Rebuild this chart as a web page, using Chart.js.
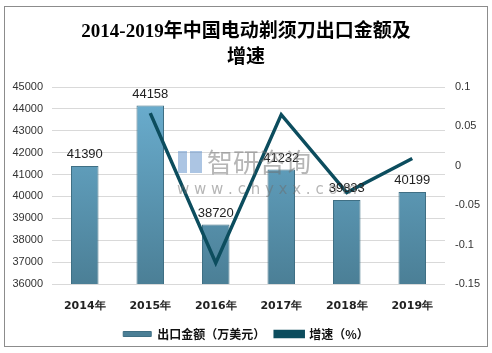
<!DOCTYPE html>
<html>
<head>
<meta charset="utf-8">
<script src="https://cdn.jsdelivr.net/npm/chart.js@4.4.0/dist/chart.umd.min.js"></script>
<style>
  body { margin: 0; background: #fff; }
  #wrap { position: absolute; left: 0; top: 0; width: 492px; height: 353px; }
</style>
</head>
<body>
<div id="wrap"><canvas id="c"></canvas></div>
<script>
const years = ['2014年', '2015年', '2016年', '2017年', '2018年', '2019年'];
const exportValue = [41390, 44158, 38720, 41232, 39833, 40199];
const growth = [null, 0.0669, -0.1232, 0.0649, -0.0339, 0.0092];
const leftTicks = [36000, 45000, 1000];
const rightTicks = [-0.15, 0.1, 0.05];

const titleLines = ['2014-2019年中国电动剃须刀出口金额及', '增速'];

// frame, title, value labels and the watermark
const decor = {
  id: 'decor',
  beforeDraw(chart) {
    const ctx = chart.ctx;
    ctx.save();
    ctx.strokeStyle = '#8c8c8c';
    ctx.lineWidth = 1;
    ctx.strokeRect(4.5, 6.5, 483, 340);
    ctx.fillStyle = '#000';
    ctx.font = 'bold 19px "Liberation Serif", "Noto Sans CJK SC"';
    ctx.textAlign = 'center';
    ctx.textBaseline = 'middle';
    ctx.fillText(titleLines[0], 246, 32);
    ctx.fillText(titleLines[1], 246, 58);
    ctx.restore();
  },
  afterDatasetsDraw(chart) {
    const ctx = chart.ctx;
    const meta = chart.getDatasetMeta(0);
    ctx.save();
    ctx.font = '13px "Liberation Sans"';
    ctx.fillStyle = '#222';
    ctx.textAlign = 'center';
    ctx.textBaseline = 'bottom';
    meta.data.forEach((bar, i) => {
      ctx.fillText(String(exportValue[i]), bar.x, bar.y - 5);
    });
    // watermark
    ctx.fillStyle = 'rgba(110,110,110,0.5)';
    ctx.font = '26px "Noto Sans CJK SC"';
    ctx.textAlign = 'left';
    ctx.textBaseline = 'middle';
    ctx.fillText('智研咨询', 207, 162);
    ctx.font = '15px "DejaVu Sans"';
    ctx.fillText('w w w . c h y x x . c o m', 177, 190);
    ctx.fillStyle = 'rgba(90,140,200,0.5)';
    ctx.fillRect(178, 151, 9, 22);
    ctx.fillRect(190, 151, 12, 22);
    ctx.restore();
  }
};

new Chart(document.getElementById('c'), {
  data: {
    labels: years,
    datasets: [{
      type: 'bar',
      label: '出口金额（万美元）',
      data: exportValue,
      yAxisID: 'y',
      order: 2,
      backgroundColor(context) {
        const area = context.chart.chartArea;
        if (!area) return '#5b9bbb';
        const g = context.chart.ctx.createLinearGradient(0, area.top, 0, area.bottom);
        g.addColorStop(0, '#6cb0d2');
        g.addColorStop(1, '#4b7f96');
        return g;
      },
      borderColor: '#3f6f84',
      borderWidth: 1,
      barPercentage: 0.42,
      categoryPercentage: 1
    }, {
      type: 'line',
      label: '增速（%）',
      data: growth,
      yAxisID: 'y1',
      order: 1,
      borderColor: '#0c4d5e',
      backgroundColor: '#0c4d5e',
      borderWidth: 3.5,
      pointRadius: 0,
      tension: 0
    }]
  },
  plugins: [decor],
  options: {
    responsive: true,
    maintainAspectRatio: false,
    animation: false,
    layout: { padding: { top: 87, left: 0, right: 0, bottom: 3 } },
    plugins: {
      title: { display: false },
      tooltip: { enabled: false },
      legend: {
        position: 'bottom',
        labels: {
          boxWidth: 28,
          boxHeight: 5,
          padding: 10,
          color: '#111',
          sort: (a, b) => a.datasetIndex - b.datasetIndex,
          font: { size: 12, weight: 'bold', family: '"Noto Sans CJK SC"' }
        }
      }
    },
    scales: {
      x: {
        grid: { display: false },
        border: { display: false },
        ticks: { color: '#222', font: { size: 11, weight: 'bold', family: '"DejaVu Sans"' }, padding: 8 },
        afterFit(s) { s.height = 34; }
      },
      y: {
        position: 'left',
        min: leftTicks[0],
        max: leftTicks[1],
        ticks: {
          stepSize: leftTicks[2],
          color: '#333',
          font: { size: 11, family: '"Liberation Sans"' },
          padding: 9,
          callback: v => String(v)
        },
        grid: { color: '#d9d9d9', drawTicks: false },
        border: { display: false },
        afterFit(s) { s.width = 52; }
      },
      y1: {
        position: 'right',
        min: rightTicks[0],
        max: rightTicks[1],
        ticks: {
          stepSize: rightTicks[2],
          color: '#333',
          font: { size: 11, family: '"Liberation Sans"' },
          padding: 10,
          callback: v => String(parseFloat(v.toFixed(2)))
        },
        grid: { display: false, drawTicks: false },
        border: { display: false },
        afterFit(s) { s.width = 47; }
      }
    }
  }
});
</script>
</body>
</html>
